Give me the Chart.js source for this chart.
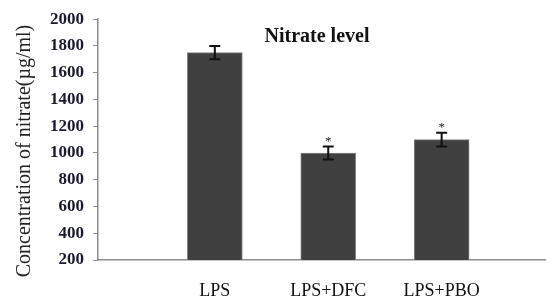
<!DOCTYPE html>
<html>
<head>
<meta charset="utf-8">
<script src="https://cdn.jsdelivr.net/npm/chart.js@4/dist/chart.umd.min.js"></script>
<style>
  html, body { margin: 0; padding: 0; background: #fff; }
  #wrap { width: 546px; height: 297px; }
</style>
</head>
<body>
<div id="wrap"><canvas id="nitrate-chart"></canvas></div>
<script>
// -------------- data --------------
const groups = ["LPS", "LPS+DFC", "LPS+PBO"];
const nitrate = [1750, 1000, 1100];
const errors = [50, 48, 52];
const significant = [false, true, true];
const yTicks = [200, 400, 600, 800, 1000, 1200, 1400, 1600, 1800, 2000];

const serif = "'Liberation Serif', 'Times New Roman', serif";

// error bars, asterisks and the titles drawn on top of the bars
const errorBarPlugin = {
    id: 'errorBars',
    afterDatasetsDraw(chart) {
        const ctx = chart.ctx;
        const x = chart.scales.x;
        const y = chart.scales.y;
        ctx.save();
        ctx.strokeStyle = '#111';
        ctx.lineWidth = 2;
        nitrate.forEach((v, i) => {
            const px = x.getPixelForValue(i + 1);
            const top = y.getPixelForValue(v + errors[i]);
            const bot = y.getPixelForValue(v - errors[i]);
            ctx.beginPath();
            ctx.moveTo(px, top); ctx.lineTo(px, bot);
            ctx.moveTo(px - 5.5, top); ctx.lineTo(px + 5.5, top);
            ctx.moveTo(px - 5.5, bot); ctx.lineTo(px + 5.5, bot);
            ctx.stroke();
            if (significant[i]) {
                ctx.fillStyle = '#222';
                ctx.font = '13px ' + serif;
                ctx.textAlign = 'center';
                ctx.textBaseline = 'alphabetic';
                ctx.fillText('*', px, top - 2);
            }
        });
        ctx.fillStyle = '#111';
        ctx.font = 'bold 20px ' + serif;
        ctx.textAlign = 'center';
        ctx.fillText('Nitrate level', 317, 42);

        // y axis title, a bit lower than the axis middle as in the original
        ctx.translate(25, 151);
        ctx.rotate(-Math.PI / 2);
        ctx.fillStyle = '#222';
        ctx.font = '20px ' + serif;
        ctx.textBaseline = 'middle';
        ctx.fillText('Concentration of nitrate(µg/ml)', 0, 0);
        ctx.restore();
    }
};

const nitrateChart = new Chart(document.getElementById('nitrate-chart'), {
    type: 'bar',
    data: {
        datasets: [{
            data: nitrate.map((v, i) => ({ x: i + 1, y: v })),
            backgroundColor: '#404040',
            borderColor: '#858585',
            borderWidth: 1,
            barThickness: 55
        }]
    },
    options: {
        responsive: true,
        maintainAspectRatio: false,
        animation: false,
        layout: { padding: { left: 12, top: 19, right: 0, bottom: 0 } },
        plugins: {
            legend: { display: false },
            tooltip: { enabled: false }
        },
        scales: {
            x: {
                type: 'linear',
                offset: false,
                min: -0.03,
                max: 3.92,
                afterBuildTicks: s => { s.ticks = groups.map((g, i) => ({ value: i + 1 })); },
                afterFit: s => { s.height = 37; },
                ticks: {
                    callback: v => groups[v - 1] || '',
                    color: '#111',
                    font: { family: serif, size: 18 },
                    padding: 12,
                    maxRotation: 0,
                    autoSkip: false
                },
                grid: { display: false, offset: false },
                border: { color: '#8c8c8c', width: 1.5 }
            },
            y: {
                min: 200,
                max: 2000,
                afterBuildTicks: s => { s.ticks = yTicks.map(v => ({ value: v })); },
                afterFit: s => { s.width = 86; },
                ticks: {
                    callback: v => String(v),
                    color: '#1a1a2e',
                    font: { family: serif, size: 17, weight: 'bold' },
                    padding: 9
                },
                grid: { drawOnChartArea: false, drawTicks: true, tickLength: 5, color: '#8c8c8c' },
                border: { color: '#8c8c8c', width: 1.5 }
            }
        }
    },
    plugins: [errorBarPlugin]
});
</script>
</body>
</html>
